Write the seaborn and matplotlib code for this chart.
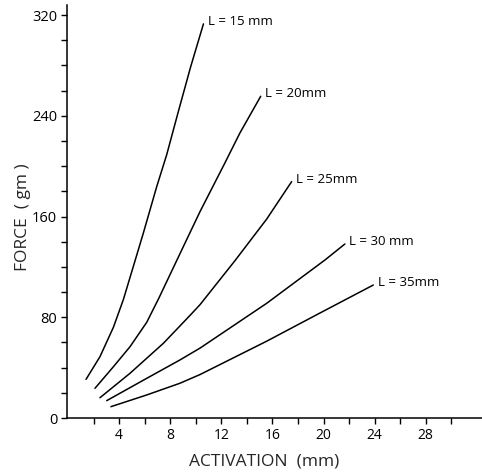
import matplotlib
matplotlib.use("Agg")
import matplotlib.pyplot as plt
import seaborn as sns
import pandas as pd
from matplotlib.ticker import MultipleLocator, FuncFormatter

# Data (activation in mm, force in gm)
l15_x = [1.41, 2.50, 3.55, 4.33, 5.10, 5.89, 6.94, 7.72, 8.65, 9.60, 10.60]
l15_y = [30.7, 48.7, 72.0, 94.0, 120, 146.7, 183.7, 209, 244, 279, 313]
l20_x = [2.11, 3.55, 4.85, 6.16, 7.10, 9.02, 10.33, 12.20, 13.46, 15.08]
l20_y = [23.6, 40.7, 56.6, 76.0, 95.0, 136, 163.9, 201, 226.5, 255.5]
l25_x = [2.50, 4.85, 7.46, 9.55, 10.33, 13.07, 15.55, 17.50]
l25_y = [16.1, 35.5, 59.3, 81.5, 90.0, 125.0, 158.0, 187.7]
l30_x = [3.03, 6.16, 8.76, 10.33, 15.55, 20.11, 21.67]
l30_y = [13.8, 31.5, 46.1, 55.5, 91.1, 125.5, 138.2]
l35_x = [3.36, 6.16, 8.76, 10.33, 15.55, 19.46, 23.89]
l35_y = [9.0, 18.3, 27.6, 34.5, 61.0, 82.0, 105.6]
labels = ["L = 15 mm", "L = 20mm", "L = 25mm", "L = 30 mm", "L = 35mm"]

series = [(l15_x, l15_y), (l20_x, l20_y), (l25_x, l25_y), (l30_x, l30_y), (l35_x, l35_y)]
rows = []
for lab, (xs, ys) in zip(labels, series):
    for x, y in zip(xs, ys):
        rows.append({"activation": x, "force": y, "L": lab})
df = pd.DataFrame(rows)

sns.set_theme(style="ticks")
plt.rcParams['font.family'] = ['Open Sans', 'DejaVu Sans']

fig = plt.figure(figsize=(4.82, 4.72), dpi=100)
ax = fig.add_axes([67/482, (472-418)/472, (482-67)/482, (418-5)/472])

sns.lineplot(data=df, x="activation", y="force", hue="L", palette=["black"]*5,
             linewidth=1.1, legend=False, sort=False, estimator=None, ax=ax)

for lab, (xs, ys) in zip(labels, series):
    ax.text(xs[-1] + 0.35, ys[-1] + 2, lab, fontsize=9.5, ha="left", va="center", color="black")

ax.set_xlim(-0.08, 32.4)
ax.set_ylim(0, 328)
ax.set_xticks([t for t in range(2, 31, 2)])
ax.yaxis.set_major_locator(MultipleLocator(20))
ax.xaxis.set_major_formatter(FuncFormatter(lambda v, p: f"{int(round(v))}" if (round(v) % 4 == 0 and round(v) >= 4) else ""))
ax.yaxis.set_major_formatter(FuncFormatter(lambda v, p: f"{int(round(v))}" if round(v) % 80 == 0 else ""))
ax.tick_params(axis="both", direction="out", length=4, width=1, colors="black", pad=3)
ax.tick_params(axis="x", labelsize=10)
ax.tick_params(axis="y", labelsize=10.5)

ax.set_xlabel("ACTIVATION  (mm)", fontsize=12.5)
ax.set_ylabel("FORCE  ( gm )", fontsize=12.5)
ax.xaxis.set_label_coords(0.475, -0.085)
ax.yaxis.set_label_coords(-0.087, 0.487)

sns.despine(ax=ax)
for s in ["left", "bottom"]:
    ax.spines[s].set_linewidth(1.1)
    ax.spines[s].set_color("black")

fig.savefig("out.png", dpi=100)
